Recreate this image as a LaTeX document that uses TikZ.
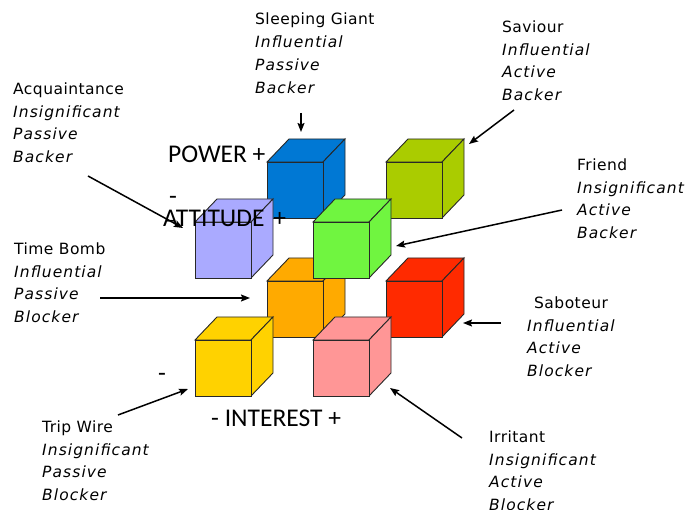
\documentclass[tikz,border=0pt]{standalone}
\usepackage{fontspec}
\setmainfont{DejaVu Sans}
\newfontfamily\labfont{DejaVu Sans}[LetterSpace=3]
\newfontfamily\labitfont{DejaVu Sans}[LetterSpace=7]
\newfontfamily\axfont{Carlito}
\usetikzlibrary{arrows.meta}
\definecolor{cBlue}{RGB}{0,120,212}
\definecolor{cOlive}{RGB}{170,204,0}
\definecolor{cLav}{RGB}{170,170,255}
\definecolor{cGreen}{RGB}{112,245,64}
\definecolor{cOrange}{RGB}{255,170,0}
\definecolor{cRed}{RGB}{255,42,0}
\definecolor{cYellow}{RGB}{255,210,0}
\definecolor{cPink}{RGB}{255,150,150}
\definecolor{cEdge}{RGB}{40,40,40}
\newcommand\stake[4]{#1\\{\labitfont\itshape #2}\\{\labitfont\itshape #3}\\{\labitfont\itshape #4}}
\newcommand\drawcube[3]{%
  \filldraw[cubeface,fill=#3] (#1,#2) -- ++(22,-23) -- ++(56,0) -- ++(-22,23) -- cycle;
  \filldraw[cubeface,fill=#3] ({#1+56},#2) -- ++(22,-23) -- ++(0,56) -- ++(-22,23) -- cycle;
  \filldraw[cubeface,fill=#3] (#1,#2) rectangle ++(56,56);
}
\tikzset{
  cubeface/.style={draw=cEdge,line width=0.9pt,line join=miter},
  lab/.style={font=\labfont\fontsize{15.5}{22.7}\selectfont,align=left,inner sep=0pt,anchor=base west},
  axis/.style={font=\axfont\fontsize{25.5}{28}\selectfont,inner sep=0pt,anchor=base west},
  minus/.style={font=\axfont\fontsize{25.5}{28}\selectfont,inner sep=0pt,anchor=center},
  pointer/.style={line width=1.5pt,-{Stealth[length=9pt,width=7pt,inset=1.5pt]}}
}
\begin{document}
\begin{tikzpicture}[x=1pt,y=-1pt]
\useasboundingbox (0,0) rectangle (686,510);
% back layer
\drawcube{267}{162}{cBlue}
\drawcube{386}{162}{cOlive}
\drawcube{267}{281}{cOrange}
\drawcube{386}{281}{cRed}
% front layer
\drawcube{195}{222}{cLav}
\drawcube{313}{222}{cGreen}
\drawcube{195}{340}{cYellow}
\drawcube{313}{340}{cPink}
% axis labels
\node[axis] (power) at (168,163) {POWER +};
\node[minus] (attminus) at (173,200) {-};
\node[axis] (attitude) at (163,227) {ATTITUDE\hspace{9pt}+};
\node[minus] (intminus) at (162,377) {-};
\node[axis] (interest) at (211,427) {- INTEREST +};
% stakeholder labels (anchored at the baseline of their last line)
\node[lab] (giant) at (255,93.1) {\stake{Sleeping Giant}{Influential}{Passive}{Backer}};
\node[lab] (saviour) at (502,100.6) {\stake{Saviour}{Influential}{Active}{Backer}};
\node[lab] (acq) at (13,162.6) {\stake{Acquaintance}{Insignificant}{Passive}{Backer}};
\node[lab] (friend) at (577,238.6) {\stake{Friend}{Insignificant}{Active}{Backer}};
\node[lab] (bomb) at (14,322.6) {\stake{Time Bomb}{Influential}{Passive}{Blocker}};
\node[lab] (sab) at (527,376.6) {\stake{\hspace{7pt}Saboteur}{Influential}{Active}{Blocker}};
\node[lab] (trip) at (42,500.6) {\stake{Trip Wire}{Insignificant}{Passive}{Blocker}};
\node[lab] (irr) at (489,510.6) {\stake{Irritant}{Insignificant}{Active}{Blocker}};
% arrow end points
\coordinate (sgA) at (301,113); \coordinate (sgB) at (301,132);
\coordinate (svA) at (514,110); \coordinate (svB) at (469,144);
\coordinate (acA) at (88,176);  \coordinate (acB) at (183,228);
\coordinate (frA) at (562,210); \coordinate (frB) at (396,246);
\coordinate (tbA) at (100,298); \coordinate (tbB) at (250,298);
\coordinate (sbA) at (501,323); \coordinate (sbB) at (463,323);
\coordinate (twA) at (118,415); \coordinate (twB) at (188,389);
\coordinate (irA) at (462,438); \coordinate (irB) at (390,388);
\draw[pointer] (sgA) -- (sgB);
\draw[pointer] (svA) -- (svB);
\draw[pointer] (acA) -- (acB);
\draw[pointer] (frA) -- (frB);
\draw[pointer] (tbA) -- (tbB);
\draw[pointer] (sbA) -- (sbB);
\draw[pointer] (twA) -- (twB);
\draw[pointer] (irA) -- (irB);
\end{tikzpicture}
\end{document}
